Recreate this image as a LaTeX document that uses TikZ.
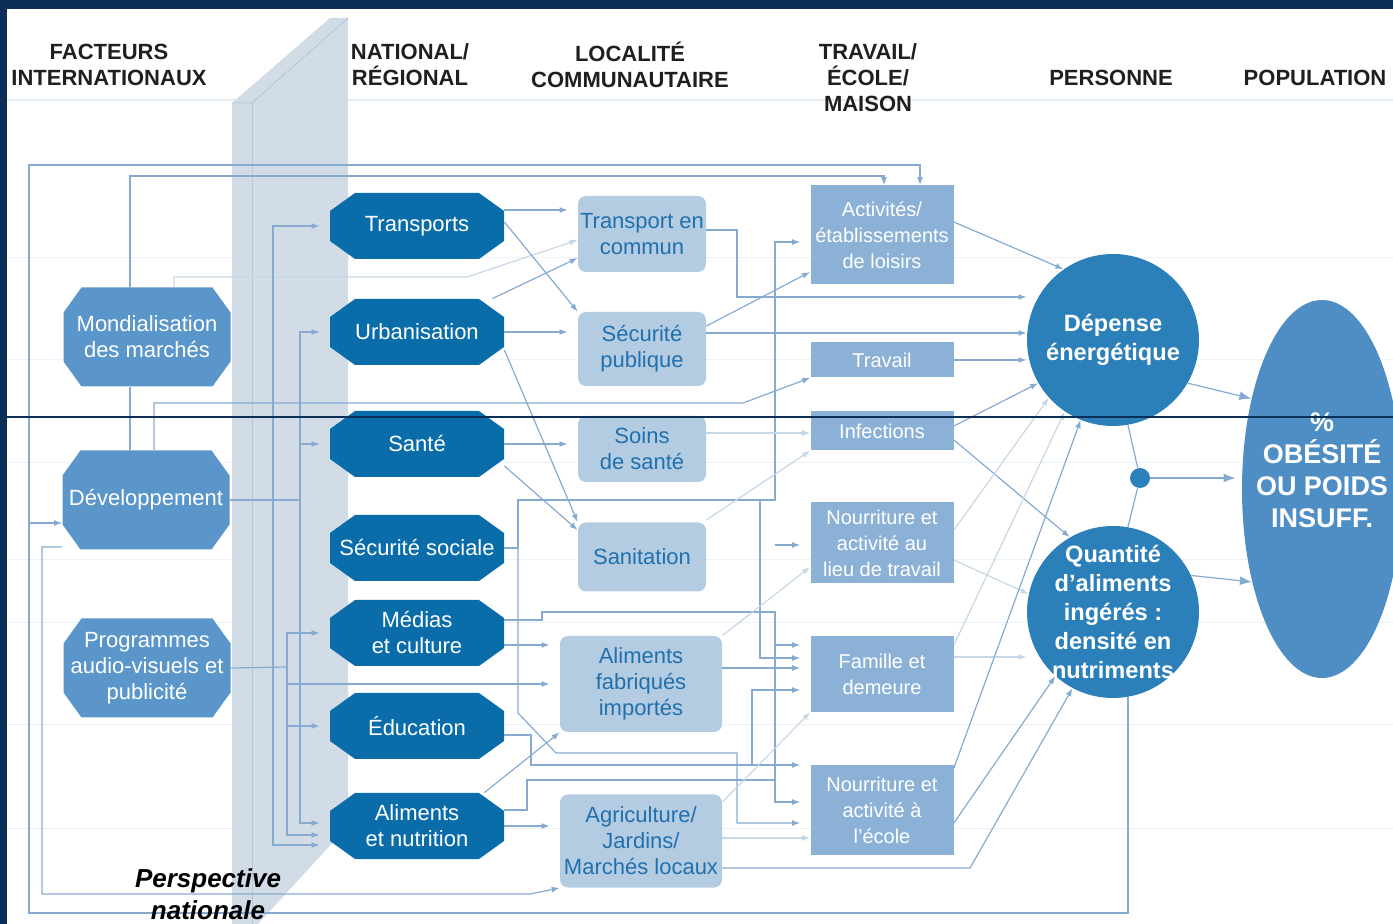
\documentclass[tikz,border=0pt]{standalone}
\usepackage{fontspec}
\setmainfont{Liberation Sans}
\usetikzlibrary{arrows.meta,shapes.geometric}

\definecolor{navy}{HTML}{0B2F57}
\definecolor{natblue}{HTML}{0A6DAA}
\definecolor{intblue}{HTML}{5A96C9}
\definecolor{comfill}{HTML}{B4CCE2}
\definecolor{comtext}{HTML}{2070AE}
\definecolor{trafill}{HTML}{8CB1D7}
\definecolor{perblue}{HTML}{2C80BA}
\definecolor{popblue}{HTML}{4F8DC5}
\definecolor{slab}{HTML}{D1DCE7}
\definecolor{slabedge}{HTML}{B5C9DC}
\definecolor{wirecol}{HTML}{86AAD0}
\definecolor{faintcol}{HTML}{C6D7E8}
\definecolor{rulecol}{HTML}{E4ECF3}

% octagon with cut corners, filled inside a rectangular node
\newcommand{\octfill}[3]{%
  \fill[#1] ([xshift=#2]path picture bounding box.north west)
    -- ([xshift=-#2]path picture bounding box.north east)
    -- ([yshift=-#3]path picture bounding box.north east)
    -- ([yshift=#3]path picture bounding box.south east)
    -- ([xshift=-#2]path picture bounding box.south east)
    -- ([xshift=#2]path picture bounding box.south west)
    -- ([yshift=#3]path picture bounding box.south west)
    -- ([yshift=-#3]path picture bounding box.north west) -- cycle;}

\begin{document}
\begin{tikzpicture}[x=0.5pt,y=-0.5pt,
  head/.style={font=\bfseries\fontsize{11}{13}\selectfont,align=center,text=black!88},
  natoct/.style={rectangle,inner sep=0pt,minimum width=87pt,minimum height=33pt,
    text=white,align=center,font=\fontsize{11}{13}\selectfont,
    path picture={\octfill{natblue}{12.5pt}{9pt}}},
  intoct/.style={rectangle,inner sep=0pt,minimum width=83.5pt,minimum height=49.5pt,
    text=white,align=center,font=\fontsize{11}{13}\selectfont,
    path picture={\octfill{intblue}{9pt}{12.5pt}}},
  combox/.style={rectangle,rounded corners=4pt,fill=comfill,text=comtext,inner sep=0pt,
    minimum width=64pt,align=center,font=\fontsize{11}{13}\selectfont},
  trabox/.style={rectangle,fill=trafill,text=white,inner sep=0pt,minimum width=71.5pt,
    align=center,font=\fontsize{10}{13}\selectfont},
  perdisc/.style={circle,fill=perblue,minimum size=86pt,inner sep=0pt},
  pertext/.style={text=white,align=center,font=\bfseries\fontsize{11.8}{14.5}\selectfont},
  poptext/.style={text=white,align=center,font=\bfseries\fontsize{13.5}{16}\selectfont},
  wire/.style={draw=wirecol,line width=0.6pt,-{Latex[length=4pt,width=3pt]}},
  faint/.style={draw=faintcol,line width=0.6pt,-{Latex[length=4pt,width=3pt]}},
  link/.style={draw=wirecol,line width=0.6pt},
  big/.style={-{Latex[length=6pt,width=4.5pt]}},
  gap/.style={shorten >=5pt},
]
\useasboundingbox (0,0) rectangle (1393,924);

% frame and table rules
\fill[navy] (0,0) rectangle (1393,9);
\fill[navy] (0,0) rectangle (7,924);
\draw[rulecol,line width=1pt] (7,100) -- (1393,100);
\foreach \y in {258,360,463,560,623,725,828}
  \draw[rulecol!70,line width=0.5pt] (7,\y) -- (1393,\y);

% the national panel
\fill[slab] (232,103) -- (330,18) -- (348,18) -- (348,826) -- (258,924) -- (232,924) -- cycle;
\draw[slabedge,line width=0.5pt] (232,103) -- (252,103) -- (348,18);
\draw[slabedge,line width=0.5pt] (252,103) -- (252,924);

% column heads
\node[head] (hint) at (109,65) {FACTEURS\\INTERNATIONAUX};
\node[head] (hnat) at (410,65) {NATIONAL/\\RÉGIONAL};
\node[head] (hloc) at (630,65) {LOCALITÉ\\COMMUNAUTAIRE};
\node[head] (htra) at (868,78) {TRAVAIL/\\ÉCOLE/\\MAISON};
\node[head] (hper) at (1111,78) {PERSONNE};
\node[head] (hpop) at (1315,78) {POPULATION};

% international factors
\node[intoct] (mond) at (147,337) {Mondialisation\\des marchés};
\node[intoct] (dev) at (146,500) {Développement};
\node[intoct] (prog) at (147,668) {Programmes\\audio-visuels et\\publicité};

% national / regional
\node[natoct] (tra) at (417,226) {Transports};
\node[natoct] (urb) at (417,332) {Urbanisation};
\node[natoct] (san) at (417,444) {Santé};
\node[natoct] (secs) at (417,548) {Sécurité sociale};
\node[natoct] (med) at (417,633) {Médias\\et culture};
\node[natoct] (edu) at (417,726) {Éducation};
\node[natoct] (alin) at (417,826) {Aliments\\et nutrition};

% community
\node[combox,minimum height=38pt] (tcom) at (642,234) {Transport en\\commun};
\node[combox,minimum height=37pt] (secp) at (642,349) {Sécurité\\publique};
\node[combox,minimum height=33pt] (soins) at (642,449) {Soins\\de santé};
\node[combox,minimum height=34.5pt] (sanit) at (642,557) {Sanitation};
\node[combox,minimum width=81pt,minimum height=48pt] (alfab) at (641,684) {Aliments\\fabriqués\\importés};
\node[combox,minimum width=81pt,minimum height=46.5pt] (agri) at (641,841) {Agriculture/\\Jardins/\\Marchés locaux};

% work / school / home
\node[trabox,minimum height=49.5pt] (act) at (882,235) {Activités/\\établissements\\de loisirs};
\node[trabox,minimum height=17.5pt] (trav) at (882,360) {Travail};
\node[trabox,minimum height=19.5pt] (inf) at (882,431) {Infections};
\node[trabox,minimum height=40.5pt] (ntrav) at (882,543) {Nourriture et\\activité au\\lieu de travail};
\node[trabox,minimum height=38pt] (fam) at (882,674) {Famille et\\demeure};
\node[trabox,minimum height=45pt] (necol) at (882,810) {Nourriture et\\activité à\\l’école};

% person and population
\node[perdisc,label={[pertext]center:{Dépense\\énergétique}}] (dep) at (1113,340) {};
\node[perdisc,label={[pertext]center:{Quantité\\d’aliments\\ingérés :\\densité en\\nutriments}}] (qte) at (1113,612) {};
\node[circle,fill=perblue,minimum size=10pt,inner sep=0pt] (jn) at (1140,478) {};
\node[ellipse,fill=popblue,minimum width=80pt,minimum height=189pt,inner sep=0pt,
  label={[poptext,yshift=9.5pt]center:{\%\\OBÉSITÉ\\OU POIDS\\INSUFF.}}] (pop) at (1322,489) {};

% junctions
\coordinate (dvbus) at (300,500);
\coordinate (dvbusb) at (273,500);
\coordinate (prbus) at (287,667);
\coordinate (fbloop) at (29,523);
\coordinate (ssj) at (518,548);
\coordinate (ssup) at (775,500);
\coordinate (ssfam) at (760,500);
\coordinate (sswork) at (775,545);
\coordinate (medfam) at (775,645);
\coordinate (alnj) at (775,780);
\coordinate (edj) at (752,765);

% feedback loop and international links
\draw[wire] (qte.-80) |- (29,913) -- (29,165) -| (act.north -| 920,0);
\draw[wire] (fbloop) -- (dev.west |- fbloop);
\draw[wire] (mond.north -| 130,0) |- (884,176) -- (act.north -| 884,0);
\draw[link] (mond.south -| 130,0) -- (dev.north -| 130,0);
\draw[wire] (dev.north -| 154,0) |- (743,403) -- (trav.south west);
\draw[faint] (mond.north -| 174,0) |- (467,277) -- (tcom.west |- 0,240);
\draw[wire] (dev.west |- 0,547) -| (42,894) -- (530,894) -- (agri.south west);

% into the national level
\draw[link] (dev.east) -- (dvbus);
\draw[wire,gap] (dvbusb) |- (tra.west);
\draw[wire,gap] (dvbus) |- (urb.west);
\draw[wire,gap] (dvbus) |- (san.west);
\draw[wire,gap] (dvbus) |- ([yshift=1.5pt]alin.west);
\draw[wire,gap] (dvbusb) |- ([yshift=-9.5pt]alin.west);
\draw[link] (prog.east) -- (prbus);
\draw[wire,gap] (prbus) |- (med.west);
\draw[wire,gap] (prbus) |- (edu.west);
\draw[wire,gap] (prbus) |- ([yshift=-4.5pt]alin.west);
\draw[wire,gap] (prbus) |- (alfab.west);

% national -> community
\draw[wire,gap] (tra.east |- 0,210) -- (tcom.west |- 0,210);
\draw[wire] (tra.east |- 0,222) -- (secp.north west);
\draw[wire] ([xshift=-6pt]urb.north east) -- (tcom.west |- 0,258);
\draw[wire,gap] (urb.east) -- (urb.east -| secp.west);
\draw[wire] (urb.east |- 0,350) -- (sanit.north west);
\draw[wire,gap] (san.east) -- (san.east -| soins.west);
\draw[wire] (san.east |- 0,466) -- (sanit.west |- 0,530);
\draw[wire,gap] (med.east |- 0,645) -- (alfab.west |- 0,645);
\draw[wire] ([xshift=-10pt]alin.north east) -- (alfab.south west);
\draw[wire,gap] (alin.east) -- (alin.east -| agri.west);

% social security network
\draw[link] (secs.east) -- (ssj);
\draw[wire,gap] (ssj) |- (ssup) |- (act.west |- 0,242);
\draw[wire,gap] (sswork) -- (ntrav.west |- sswork);
\draw[wire,gap] (ssfam) |- (fam.west |- 0,658);
\draw[wire,gap] (ssj) -- (518,713) -- (556,753) -| (737,823) -- (necol.west |- 0,823);

% community -> work / school / home
\draw[wire] (tcom.east |- 0,230) -| (737,297) -- (dep.west |- 0,297);
\draw[wire] (secp.east |- 0,333) -- (dep.west |- 0,333);
\draw[wire] (secp.east |- 0,326) -- (act.west |- 0,272);
\draw[faint] (soins.east |- 0,433) -- (inf.west |- 0,433);
\draw[faint] (sanit.east |- 0,520) -- (inf.south west);
\draw[wire,gap] (med.east |- 0,620) -- (542,620) -- (542,612) -| (775,802) -- (necol.west |- 0,802);
\draw[wire,gap] (medfam) -- (fam.west |- medfam);
\draw[link] (alin.east |- 0,810) -- (527,810) -- (527,780) -- (alnj);
\draw[wire,gap] (edu.east |- 0,735) -- (531,735) |- (necol.west |- 0,765);
\draw[wire,gap] (edj) |- (fam.west |- 0,690);
\draw[wire,gap] (alfab.east |- 0,668) -- (fam.west |- 0,668);
\draw[faint] (alfab.north east) -- (ntrav.west |- 0,567);
\draw[faint] (agri.east |- 0,802) -- (fam.south west);
\draw[faint] (agri.east |- 0,838) -- (necol.west |- 0,838);
\draw[wire] (agri.east |- 0,868) -- (970,868) -- (qte.242);

% into the person
\draw[wire] (act.east |- 0,222) -- (dep.125);
\draw[wire] (trav.east) -- (trav.east -| dep.west);
\draw[wire] (inf.east |- 0,426) -- (dep.210);
\draw[wire] (inf.east |- 0,440) -- (qte.120);
\draw[faint] (ntrav.east |- 0,530) -- (dep.222);
\draw[faint] (ntrav.east |- 0,560) -- (qte.168);
\draw[faint] (fam.east |- 0,645) -- (dep.236);
\draw[faint] (fam.east |- 0,657) -- (qte.west |- 0,657);
\draw[wire] (necol.east |- 0,768) -- (dep.248);
\draw[wire] (necol.east |- 0,823) -- (qte.228);

% person -> population
\draw[wire,big] (dep.-30) -- (pop.128);
\draw[wire,big] (qte.25) -- (pop.233);
\draw[link] (dep.-80) -- (jn);
\draw[link] (qte.80) -- (jn);
\draw[wire,big,shorten >=3pt] (jn) -- (pop.west |- jn);

\node[font=\bfseries\itshape\fontsize{13}{16}\selectfont,align=center] (persp) at (208,894) {Perspective\\nationale};

\draw[navy,line width=0.8pt] (7,417) -- (1393,417);
\end{tikzpicture}
\end{document}
